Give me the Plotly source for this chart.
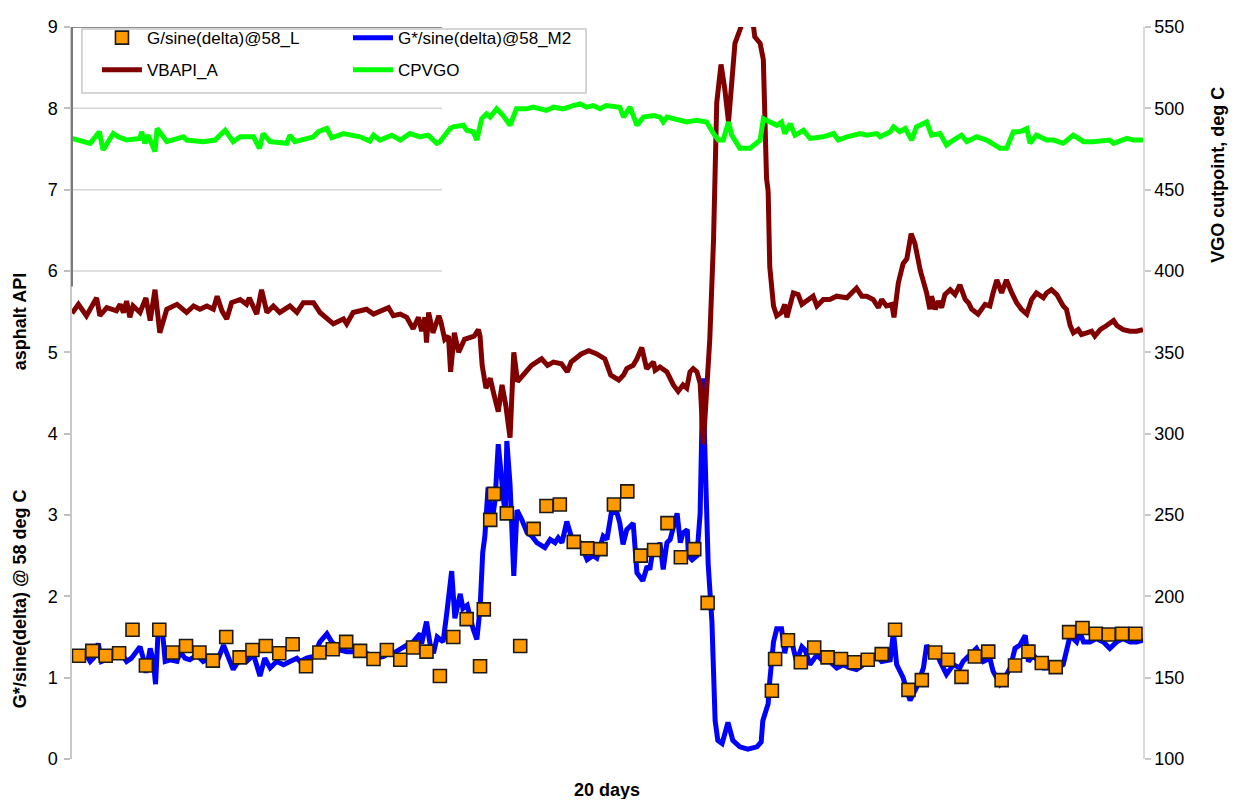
import plotly.graph_objects as go

# ---------------- data (time in days) ----------------
# G/sine(delta)@58_L  (lab samples, left axis)
g_lab = [(0.13, 1.27), (0.38, 1.33), (0.63, 1.27), (0.88, 1.30), (1.13, 1.59), (1.38, 1.15),
         (1.63, 1.59), (1.88, 1.31), (2.13, 1.39), (2.38, 1.31), (2.63, 1.21), (2.88, 1.50),
         (3.13, 1.25), (3.37, 1.34), (3.62, 1.39), (3.87, 1.30), (4.12, 1.41), (4.37, 1.14),
         (4.62, 1.31), (4.87, 1.35), (5.12, 1.44), (5.38, 1.33), (5.63, 1.23), (5.88, 1.34),
         (6.13, 1.22), (6.37, 1.37), (6.62, 1.32), (6.87, 1.02), (7.12, 1.50), (7.37, 1.72),
         (7.62, 1.14), (7.69, 1.84), (7.81, 2.94), (7.88, 3.26), (8.12, 3.02), (8.37, 1.39),
         (8.62, 2.83), (8.86, 3.11), (9.11, 3.13), (9.37, 2.67), (9.62, 2.59), (9.87, 2.58),
         (10.12, 3.13), (10.37, 3.29), (10.62, 2.50), (10.87, 2.57), (11.12, 2.90), (11.37, 2.48),
         (11.62, 2.58), (11.87, 1.92), (13.07, 0.84), (13.13, 1.23), (13.37, 1.46), (13.61, 1.19),
         (13.86, 1.37), (14.11, 1.25), (14.36, 1.23), (14.61, 1.19), (14.86, 1.22), (15.12, 1.29),
         (15.37, 1.59), (15.62, 0.85), (15.87, 0.97), (16.12, 1.31), (16.36, 1.22), (16.61, 1.01),
         (16.86, 1.26), (17.11, 1.32), (17.36, 0.97), (17.61, 1.15), (17.86, 1.32), (18.11, 1.18),
         (18.37, 1.13), (18.62, 1.56), (18.87, 1.61), (19.12, 1.54), (19.36, 1.53), (19.61, 1.54),
         (19.86, 1.54)]

# G*/sine(delta)@58_M2 (model, left axis)
g_model = [(0.00, 1.30), (0.15, 1.22), (0.27, 1.28), (0.34, 1.20), (0.40, 1.24), (0.49, 1.42),
           (0.55, 1.20), (0.65, 1.22), (0.77, 1.26), (0.90, 1.32), (1.02, 1.20), (1.11, 1.24),
           (1.21, 1.32), (1.27, 1.38), (1.33, 1.24), (1.38, 1.06), (1.46, 1.36), (1.52, 1.20),
           (1.56, 0.92), (1.61, 1.60), (1.68, 1.64), (1.74, 1.20), (1.83, 1.22), (1.96, 1.20),
           (2.02, 1.32), (2.11, 1.24), (2.20, 1.22), (2.33, 1.28), (2.45, 1.20), (2.58, 1.24),
           (2.70, 1.18), (2.83, 1.40), (2.95, 1.20), (3.01, 1.10), (3.14, 1.24), (3.26, 1.20),
           (3.39, 1.28), (3.51, 1.02), (3.60, 1.24), (3.70, 1.12), (3.82, 1.20), (3.95, 1.16),
           (4.07, 1.20), (4.20, 1.24), (4.26, 1.20), (4.38, 1.24), (4.51, 1.26), (4.63, 1.44),
           (4.76, 1.54), (4.85, 1.44), (5.00, 1.34), (5.13, 1.32), (5.25, 1.32), (5.38, 1.28),
           (5.50, 1.30), (5.66, 1.24), (5.81, 1.26), (5.91, 1.30), (6.00, 1.30), (6.13, 1.36),
           (6.25, 1.40), (6.37, 1.44), (6.50, 1.54), (6.53, 1.42), (6.62, 1.69), (6.69, 1.40),
           (6.75, 1.30), (6.82, 1.50), (6.93, 1.44), (7.00, 1.80), (7.09, 2.31), (7.15, 1.73),
           (7.25, 2.03), (7.30, 1.85), (7.38, 1.89), (7.49, 1.60), (7.56, 1.47), (7.62, 1.85),
           (7.67, 2.54), (7.71, 2.74), (7.77, 3.34), (7.84, 2.90), (7.90, 3.18), (7.96, 3.87),
           (8.03, 3.30), (8.09, 2.98), (8.12, 3.91), (8.18, 3.38), (8.25, 2.25), (8.31, 3.06),
           (8.40, 2.94), (8.50, 2.78), (8.59, 2.74), (8.68, 2.66), (8.83, 2.60), (8.93, 2.70),
           (9.02, 2.66), (9.08, 2.72), (9.15, 2.66), (9.24, 2.92), (9.34, 2.70), (9.49, 2.66),
           (9.62, 2.45), (9.73, 2.50), (9.80, 2.47), (9.92, 2.74), (9.99, 2.70), (10.08, 3.06),
           (10.18, 3.02), (10.23, 2.90), (10.29, 2.64), (10.36, 2.82), (10.42, 2.86), (10.48, 2.90),
           (10.55, 2.29), (10.66, 2.19), (10.74, 2.37), (10.79, 2.33), (10.85, 2.58), (10.92, 2.50),
           (10.98, 2.66), (11.04, 2.33), (11.11, 2.66), (11.17, 2.70), (11.30, 3.02), (11.36, 2.66),
           (11.41, 2.78), (11.49, 2.82), (11.51, 2.50), (11.58, 2.45), (11.67, 2.50), (11.73, 3.02),
           (11.78, 4.68), (11.82, 3.67), (11.88, 2.40), (11.95, 1.69), (12.01, 0.47), (12.06, 0.23),
           (12.14, 0.19), (12.25, 0.45), (12.34, 0.23), (12.47, 0.15), (12.62, 0.12), (12.79, 0.15),
           (12.87, 0.21), (12.90, 0.47), (13.00, 0.68), (13.03, 0.96), (13.10, 1.44), (13.16, 1.60),
           (13.25, 1.60), (13.31, 1.30), (13.37, 1.50), (13.44, 1.44), (13.53, 1.20), (13.63, 1.38),
           (13.69, 1.34), (13.78, 1.16), (13.91, 1.28), (14.03, 1.20), (14.15, 1.20), (14.28, 1.12),
           (14.40, 1.16), (14.53, 1.12), (14.65, 1.10), (14.78, 1.16), (14.90, 1.20), (15.03, 1.28),
           (15.12, 1.20), (15.28, 1.22), (15.34, 1.56), (15.40, 1.16), (15.52, 1.00), (15.65, 0.72),
           (15.77, 0.88), (15.90, 1.12), (15.96, 1.40), (16.05, 1.28), (16.12, 1.36), (16.21, 1.20),
           (16.33, 1.04), (16.46, 1.16), (16.58, 1.12), (16.64, 1.20), (16.77, 1.28), (16.89, 1.36),
           (17.02, 1.20), (17.14, 1.24), (17.20, 1.08), (17.33, 0.92), (17.42, 1.00), (17.52, 1.12),
           (17.61, 1.36), (17.70, 1.40), (17.80, 1.52), (17.86, 1.20), (17.95, 1.28), (18.04, 1.20),
           (18.14, 1.12), (18.26, 1.12), (18.39, 1.12), (18.51, 1.16), (18.64, 1.52), (18.76, 1.44),
           (18.82, 1.56), (18.89, 1.44), (19.01, 1.44), (19.13, 1.48), (19.26, 1.44), (19.38, 1.36),
           (19.51, 1.44), (19.63, 1.48), (19.76, 1.44), (19.88, 1.44), (20.00, 1.46)]

# VBAPI_A (asphalt API, left axis)
vbapi = [(0.00, 5.48), (0.12, 5.59), (0.27, 5.45), (0.46, 5.67), (0.52, 5.45), (0.65, 5.55),
         (0.83, 5.51), (0.90, 5.59), (0.96, 5.49), (1.02, 5.63), (1.08, 5.43), (1.14, 5.57),
         (1.27, 5.49), (1.38, 5.67), (1.46, 5.39), (1.55, 5.77), (1.64, 5.24), (1.77, 5.53),
         (1.96, 5.59), (2.14, 5.49), (2.27, 5.57), (2.39, 5.53), (2.52, 5.57), (2.64, 5.53),
         (2.71, 5.69), (2.80, 5.51), (2.89, 5.41), (2.98, 5.61), (3.14, 5.65), (3.26, 5.59),
         (3.31, 5.67), (3.45, 5.47), (3.54, 5.77), (3.64, 5.49), (3.76, 5.57), (3.88, 5.49),
         (4.07, 5.57), (4.20, 5.49), (4.32, 5.61), (4.51, 5.61), (4.63, 5.49), (4.76, 5.41),
         (4.88, 5.35), (5.07, 5.41), (5.13, 5.35), (5.25, 5.49), (5.50, 5.53), (5.63, 5.47),
         (5.75, 5.51), (5.91, 5.55), (6.00, 5.45), (6.13, 5.47), (6.25, 5.43), (6.37, 5.29),
         (6.47, 5.43), (6.53, 5.26), (6.59, 5.43), (6.62, 5.12), (6.66, 5.49), (6.74, 5.24),
         (6.85, 5.45), (6.89, 5.37), (6.96, 5.16), (7.03, 5.20), (7.07, 4.76), (7.14, 5.24),
         (7.22, 5.00), (7.33, 5.16), (7.51, 5.20), (7.59, 5.28), (7.62, 5.20), (7.66, 4.84),
         (7.73, 4.56), (7.81, 4.68), (7.88, 4.48), (7.96, 4.27), (8.03, 4.60), (8.10, 4.35),
         (8.18, 3.95), (8.25, 5.00), (8.32, 4.64), (8.47, 4.76), (8.58, 4.84), (8.77, 4.92),
         (8.88, 4.84), (8.99, 4.88), (9.14, 4.86), (9.25, 4.76), (9.32, 4.88), (9.51, 4.98),
         (9.65, 5.02), (9.80, 4.98), (9.95, 4.92), (10.06, 4.72), (10.21, 4.66), (10.30, 4.72),
         (10.36, 4.80), (10.48, 4.84), (10.55, 4.92), (10.64, 5.06), (10.73, 4.80), (10.86, 4.88),
         (10.89, 4.78), (10.98, 4.82), (11.11, 4.76), (11.23, 4.60), (11.32, 4.52), (11.41, 4.60),
         (11.48, 4.56), (11.54, 4.76), (11.60, 4.80), (11.67, 4.76), (11.73, 4.62), (11.79, 3.87),
         (11.85, 4.62), (11.91, 5.16), (11.98, 6.38), (12.04, 8.07), (12.12, 8.54), (12.19, 8.24),
         (12.26, 7.83), (12.32, 8.40), (12.38, 8.80), (12.47, 8.96), (12.57, 9.15), (12.62, 9.25),
         (12.70, 9.15), (12.75, 8.88), (12.85, 8.80), (12.91, 8.60), (12.97, 7.14), (13.00, 6.98),
         (13.03, 6.05), (13.10, 5.57), (13.16, 5.45), (13.25, 5.49), (13.31, 5.59), (13.35, 5.43),
         (13.47, 5.73), (13.56, 5.71), (13.63, 5.59), (13.72, 5.63), (13.84, 5.69), (13.91, 5.57),
         (14.03, 5.65), (14.15, 5.65), (14.28, 5.69), (14.47, 5.67), (14.56, 5.73), (14.65, 5.79),
         (14.75, 5.69), (14.84, 5.69), (14.96, 5.65), (15.06, 5.55), (15.12, 5.65), (15.21, 5.57),
         (15.31, 5.59), (15.35, 5.43), (15.43, 5.85), (15.52, 6.09), (15.59, 6.15), (15.67, 6.46),
         (15.74, 6.34), (15.84, 6.01), (15.96, 5.73), (16.02, 5.53), (16.05, 5.69), (16.12, 5.53),
         (16.18, 5.63), (16.24, 5.55), (16.30, 5.71), (16.40, 5.77), (16.49, 5.71), (16.58, 5.83),
         (16.68, 5.65), (16.74, 5.61), (16.80, 5.53), (16.92, 5.47), (17.05, 5.59), (17.14, 5.57),
         (17.20, 5.73), (17.27, 5.89), (17.36, 5.73), (17.45, 5.89), (17.55, 5.73), (17.64, 5.61),
         (17.73, 5.53), (17.83, 5.47), (17.92, 5.65), (18.01, 5.73), (18.14, 5.67), (18.20, 5.73),
         (18.29, 5.77), (18.39, 5.71), (18.51, 5.57), (18.57, 5.53), (18.64, 5.33), (18.70, 5.24),
         (18.79, 5.28), (18.85, 5.22), (18.95, 5.24), (19.04, 5.26), (19.10, 5.20), (19.20, 5.28),
         (19.32, 5.33), (19.45, 5.39), (19.51, 5.33), (19.63, 5.28), (19.76, 5.26), (19.88, 5.26),
         (20.00, 5.28)]

# CPVGO (VGO cutpoint, deg C, right axis)
cpvgo = [(0.00, 481.5), (0.15, 480.5), (0.34, 478.5), (0.51, 485.6), (0.58, 474.4), (0.77, 484.5),
         (0.86, 482.5), (1.02, 480.5), (1.27, 481.5), (1.30, 485.6), (1.36, 478.5), (1.42, 483.5),
         (1.55, 473.4), (1.59, 487.6), (1.77, 479.5), (2.08, 482.5), (2.14, 480.5), (2.45, 479.5),
         (2.67, 480.5), (2.86, 486.5), (3.01, 479.5), (3.14, 482.5), (3.39, 482.5), (3.50, 475.4),
         (3.57, 484.5), (3.70, 479.5), (4.01, 478.5), (4.07, 483.5), (4.16, 479.5), (4.51, 482.5),
         (4.60, 485.6), (4.76, 487.6), (4.85, 481.9), (5.07, 484.5), (5.38, 482.5), (5.56, 479.9),
         (5.63, 483.5), (5.75, 480.5), (5.97, 483.5), (6.13, 480.5), (6.31, 484.5), (6.50, 482.5),
         (6.65, 483.5), (6.81, 478.5), (6.87, 479.5), (7.06, 487.6), (7.12, 488.6), (7.31, 489.6),
         (7.37, 486.5), (7.49, 485.6), (7.56, 480.5), (7.65, 493.6), (7.74, 496.6), (7.81, 494.6),
         (7.93, 499.7), (8.05, 495.6), (8.18, 489.6), (8.30, 499.7), (8.49, 499.7), (8.61, 500.7),
         (8.74, 499.7), (8.86, 498.7), (8.99, 500.7), (9.17, 499.7), (9.36, 501.7), (9.49, 502.7),
         (9.61, 500.7), (9.73, 501.7), (9.86, 499.7), (9.98, 501.7), (10.23, 500.7), (10.30, 494.6),
         (10.42, 500.7), (10.55, 489.6), (10.67, 494.6), (10.86, 495.6), (10.98, 494.6), (11.04, 491.6),
         (11.11, 494.6), (11.35, 492.6), (11.48, 491.6), (11.67, 492.6), (11.85, 491.6), (11.98, 484.5),
         (12.07, 480.5), (12.16, 480.5), (12.26, 491.6), (12.32, 483.5), (12.47, 475.4), (12.66, 475.4),
         (12.79, 478.5), (12.85, 480.5), (12.91, 493.6), (13.03, 491.6), (13.16, 489.6), (13.25, 491.6),
         (13.31, 484.5), (13.41, 490.6), (13.50, 483.5), (13.66, 486.5), (13.78, 481.5), (14.03, 482.5),
         (14.22, 484.5), (14.31, 480.5), (14.47, 482.5), (14.72, 484.5), (14.84, 483.5), (15.03, 484.5),
         (15.09, 482.5), (15.28, 485.6), (15.34, 488.6), (15.46, 485.6), (15.56, 487.6), (15.68, 480.5),
         (15.77, 488.6), (15.96, 491.6), (16.05, 483.5), (16.21, 484.5), (16.33, 477.4), (16.46, 480.5),
         (16.61, 483.5), (16.71, 479.5), (16.89, 482.5), (17.08, 480.5), (17.33, 475.4), (17.45, 475.4),
         (17.58, 485.6), (17.70, 485.6), (17.83, 487.6), (17.89, 478.5), (18.01, 483.5), (18.20, 480.5),
         (18.33, 480.5), (18.51, 478.5), (18.70, 483.5), (18.89, 479.5), (19.07, 479.5), (19.38, 480.5),
         (19.45, 478.5), (19.70, 481.5), (19.82, 480.5), (20.00, 480.5)]

left_ticks = [0, 1, 2, 3, 4, 5, 6, 7, 8, 9]
right_ticks = [100, 150, 200, 250, 300, 350, 400, 450, 500, 550]


def xs(points):
    return [p[0] for p in points]


def ys(points):
    return [p[1] for p in points]


FONT = "Liberation Sans, Arial, sans-serif"
LW = 5

fig = go.Figure()

fig.add_trace(go.Scatter(
    x=xs(g_model), y=ys(g_model), mode="lines", name="G*/sine(delta)@58_M2",
    line=dict(color="#0000FF", width=LW), legend="legend2", legendrank=1,
    legendgroup="m2"))
fig.add_trace(go.Scatter(
    x=xs(vbapi), y=ys(vbapi), mode="lines", name="VBAPI_A",
    line=dict(color="#800000", width=LW), legend="legend", legendrank=2,
    legendgroup="va"))
fig.add_trace(go.Scatter(
    x=xs(cpvgo), y=ys(cpvgo), mode="lines", name="CPVGO", yaxis="y2",
    line=dict(color="#00FF00", width=LW), legend="legend2", legendrank=2,
    legendgroup="cp"))
fig.add_trace(go.Scatter(
    x=xs(g_lab), y=ys(g_lab), mode="markers", name="G/sine(delta)@58_L",
    marker=dict(symbol="square", size=13, color="#FF9900",
                line=dict(color="#1a1a1a", width=1.6)),
    legend="legend", legendrank=1, legendgroup="lab"))

grid_end = 0.3455  # gridlines only cover the left part (as in the reference)
shapes = []
for v in [6, 7, 8]:
    shapes.append(dict(type="line", xref="paper", yref="y", x0=0, x1=grid_end, y0=v, y1=v,
                       line=dict(color="#d4d4d4", width=1.5), layer="below"))
shapes.append(dict(type="line", xref="paper", yref="y", x0=0, x1=grid_end, y0=9, y1=9,
                   line=dict(color="#8c8c8c", width=2), layer="above"))
shapes.append(dict(type="line", xref="paper", yref="y", x0=0, x1=0, y0=5.81, y1=9,
                   line=dict(color="#7a7a7a", width=2), layer="above"))
# legend frame
shapes.append(dict(type="rect", xref="paper", yref="paper", x0=0.0093, x1=0.48,
                   y0=0.9097, y1=0.9973, line=dict(color="#c8c8c8", width=1.5),
                   fillcolor="rgba(255,255,255,0)", layer="below"))

legend_common = dict(xanchor="left", yanchor="top", bgcolor="rgba(0,0,0,0)", borderwidth=0,
                     font=dict(family=FONT, size=17, color="black"), itemwidth=40,
                     traceorder="grouped", tracegroupgap=7, orientation="v")

fig.update_layout(
    width=1221, height=791,
    margin=dict(l=64, r=86, t=9, b=40),
    plot_bgcolor="white", paper_bgcolor="white",
    font=dict(family=FONT, size=18, color="black"),
    showlegend=True,
    xaxis=dict(range=[0, 20], showticklabels=False, ticks="", showgrid=False,
               zeroline=False, showline=False),
    yaxis=dict(range=[0, 9], tickvals=left_ticks, ticks="outside", ticklen=6,
               tickcolor="#bfbfbf", tickwidth=1.5, showgrid=False, zeroline=False,
               showline=True, linecolor="#c8c8c8", linewidth=1.5, ticklabelstandoff=3,
               tickfont=dict(family=FONT, size=18, color="black")),
    yaxis2=dict(range=[100, 550], tickvals=right_ticks, overlaying="y", side="right",
                ticks="outside", ticklen=6, tickcolor="#c8c8c8", tickwidth=1.5,
                showgrid=False, zeroline=False, showline=True, linecolor="#d9d9d9",
                linewidth=1.5, ticklabelstandoff=0,
                tickfont=dict(family=FONT, size=18, color="black")),
    legend=dict(x=0.0233, y=1.0094, **legend_common),
    legend2=dict(x=0.2577, y=1.0094, **legend_common),
    shapes=shapes,
    annotations=[
        dict(text="<b>asphalt API</b>", xref="paper", yref="paper", x=-0.0486, y=0.598,
             textangle=-90, showarrow=False, xanchor="center", yanchor="middle",
             font=dict(family=FONT, size=18, color="black")),
        dict(text="<b>G*/sine(delta) @ 58 deg C</b>", xref="paper", yref="paper",
             x=-0.0486, y=0.2197, textangle=-90, showarrow=False, xanchor="center",
             yanchor="middle", font=dict(family=FONT, size=18, color="black")),
        dict(text="<b>VGO cutpoint, deg C</b>", xref="paper", yref="paper", x=1.070,
             y=0.798, textangle=-90, showarrow=False, xanchor="center", yanchor="middle",
             font=dict(family=FONT, size=18, color="black")),
        dict(text="<b>20 days</b>", xref="paper", yref="paper", x=0.4995, y=-0.0418,
             showarrow=False, xanchor="center", yanchor="middle",
             font=dict(family=FONT, size=18, color="black")),
    ],
)

fig.write_html("out.html")
